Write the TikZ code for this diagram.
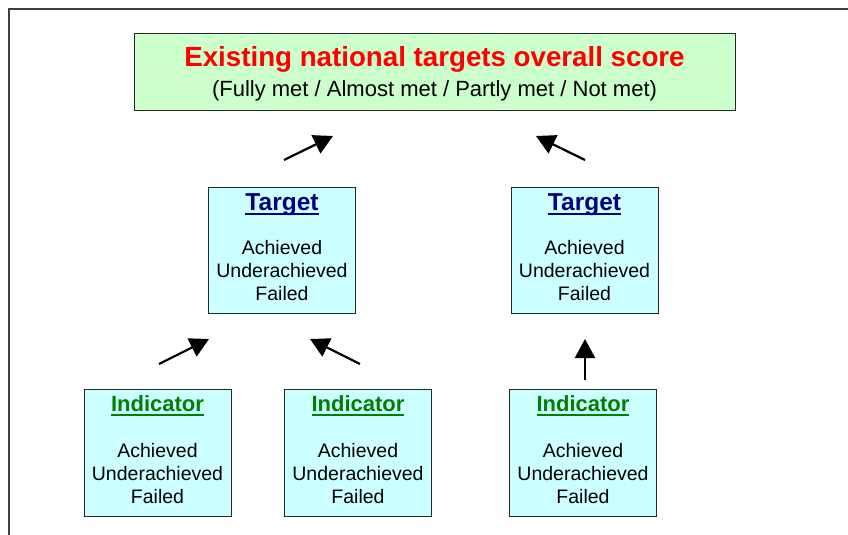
\documentclass[tikz,border=0pt]{standalone}
\usepackage{fontspec}
\setmainfont{Liberation Sans}
\usetikzlibrary{arrows.meta}
\definecolor{scoregreen}{RGB}{204,255,204}
\definecolor{levelcyan}{RGB}{204,255,255}
\definecolor{targetnavy}{RGB}{0,0,128}
\definecolor{indicgreen}{RGB}{0,128,0}
\definecolor{framegray}{RGB}{64,64,64}
\newsavebox\headbox
\newcommand\headul[1]{\sbox\headbox{#1}\rlap{\rule[-4.5pt]{\wd\headbox}{2pt}}\usebox\headbox}

\begin{document}
\begin{tikzpicture}[x=1pt,y=-1pt,
    box/.style={draw=black!85,line width=1pt,inner sep=0pt},
    scorebox/.style={box,fill=scoregreen,minimum width=601pt,minimum height=76pt},
    levelbox/.style={box,fill=levelcyan,minimum width=147pt,minimum height=126pt},
    head/.style={anchor=base,inner sep=0pt,font=\bfseries\fontsize{#1}{#1}\selectfont},
    levels/.style={align=center,inner sep=0pt,font=\fontsize{19.5}{23}\selectfont},
    up/.style={line width=2.2pt,-{Triangle[length=19pt,width=20pt]}}]
    \useasboundingbox (0,0) rectangle (848,535);
    \draw[framegray,line width=1.5pt] (9,535) -- (9,9) -- (848,9);

    \node[scorebox] (score) at (434.5,72) {};
    \node[head=27.7,text=red] (title) at (434.5,66.5) {Existing national targets overall score};
    \node[anchor=base,inner sep=0pt,font=\fontsize{22}{24}\selectfont] (grades) at (434.5,96) {(Fully met / Almost met / Partly met / Not met)};

    \node[levelbox] (tgtL) at (282,250) {};
    \node[levelbox] (tgtR) at (584.5,250) {};
    \node[levelbox,minimum height=127pt] (indL) at (157.5,452.5) {};
    \node[levelbox,minimum height=127pt] (indM) at (358,452.5) {};
    \node[levelbox,minimum height=127pt] (indR) at (583,452.5) {};

    \foreach \b in {tgtL,tgtR} {
        \node[head=24.5,text=targetnavy] (\b h) at ([yshift=-24pt]\b.north) {\headul{Target}};
        \node[levels] (\b s) at ([yshift=-84pt]\b.north) {Achieved\\Underachieved\\Failed};
    }
    \foreach \b in {indL,indM,indR} {
        \node[head=22,text=indicgreen] (\b h) at ([yshift=-23pt]\b.north) {\headul{Indicator}};
        \node[levels] (\b s) at ([yshift=-85pt]\b.north) {Achieved\\Underachieved\\Failed};
    }

    \coordinate (aLs) at (284,160); \coordinate (aLe) at (333,136);
    \coordinate (aRs) at (585,160); \coordinate (aRe) at (536,136);
    \coordinate (bLs) at (159,364); \coordinate (bLe) at (209,339);
    \coordinate (bMs) at (360,364); \coordinate (bMe) at (310,339);
    \coordinate (bRs) at (585,380); \coordinate (bRe) at (585,339);
    \foreach \a in {aL,aR,bL,bM,bR}
        \draw[up] (\a s) -- (\a e);
\end{tikzpicture}
\end{document}
